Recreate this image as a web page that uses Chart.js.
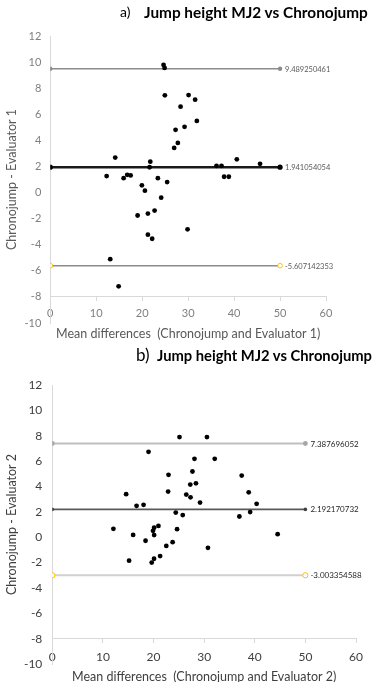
<!DOCTYPE html>
<html>
<head>
<meta charset="utf-8">
<script src="https://cdn.jsdelivr.net/npm/chart.js@4.4.1/dist/chart.umd.min.js"></script>
<style>
  html, body { margin: 0; padding: 0; background: #fff; }
  #wrap { position: relative; width: 375px; height: 682px; overflow: hidden; font-family: Lato, "Open Sans", sans-serif; }
  canvas { position: absolute; left: 0; }
  #cA { top: 0; }
  #cB { top: 340px; }
  .h { position: absolute; white-space: nowrap; color: #000; line-height: 1; font-family: Lato, sans-serif; }
  .n { font-weight: 400; }
  .b { font-weight: 700; font-size: 15px; }
</style>
</head>
<body>
<div id="wrap">
  <canvas id="cA" width="375" height="352"></canvas>
  <canvas id="cB" width="375" height="342"></canvas>
  <span class="h n" id="hAn" style="left:120px; top:5px; font-size:14px">a)</span>
  <span class="h b" id="hAb" style="left:144px; top:5px">Jump height MJ2 vs Chronojump</span>
  <span class="h n" id="hBn" style="left:136px; top:346px; font-size:17px">b)</span>
  <span class="h b" id="hBb" style="left:157px; top:348px">Jump height MJ2 vs Chronojump</span>
</div>
<script>
// ---- Data ----
const xTickLabelsRange = [0, 60];      // x axis 0..60 step 10
const yTickLabelsRange = [-10, 12];    // y axis -10..12 step 2

// Chart a) Chronojump vs Evaluator 1
const aMean = [24.65, 24.87, 24.93, 30.09, 31.52, 28.35, 31.89, 29.22, 27.26, 27.76, 26.96,
               14.13, 21.76, 21.61, 36.17, 37.26, 40.59, 45.65, 12.26, 16.74, 17.48, 15.96,
               23.41, 25.43, 37.83, 38.85, 19.93, 20.59, 24.13, 22.70, 21.24, 19.00, 29.87,
               21.24, 22.17, 13.04, 14.87];
const aDiff = [9.78, 9.55, 7.45, 7.47, 7.12, 6.58, 5.49, 5.04, 4.81, 3.80, 3.42,
               2.68, 2.37, 1.94, 2.05, 2.05, 2.55, 2.20, 1.26, 1.36, 1.31, 1.10,
               1.10, 0.80, 1.21, 1.21, 0.55, 0.14, -0.39, -1.38, -1.61, -1.76, -2.82,
               -3.23, -3.54, -5.11, -7.19];
const aLimits = [9.489250461, 1.941054054, -5.607142353]; // upper, mean, lower
const aTitleY = "Chronojump - Evaluator 1";
const aTitleX = "Mean differences  (Chronojump and Evaluator 1)";

// Chart b) Chronojump vs Evaluator 2
const bMean = [25.13, 30.55, 19.01, 28.09, 32.09, 27.69, 22.96, 37.42, 27.26, 28.38,
               14.59, 22.88, 26.47, 27.31, 38.80, 29.19, 40.37, 16.65, 18.03, 24.39,
               25.77, 36.96, 39.09, 12.07, 15.97, 20.12, 20.97, 19.90, 20.12, 24.65,
               44.52, 18.42, 23.77, 22.52, 30.75, 15.17, 20.10, 21.30, 19.64];
const bDiff = [7.89, 7.89, 6.73, 6.18, 6.18, 5.18, 4.92, 4.86, 4.15, 4.25,
               3.39, 3.60, 3.36, 3.14, 3.54, 2.73, 2.63, 2.47, 2.55, 1.94,
               1.74, 1.63, 1.98, 0.66, 0.18, 0.75, 0.89, 0.50, 0.17, 0.63,
               0.24, -0.28, -0.39, -0.69, -0.84, -1.85, -1.70, -1.49, -2.00];
const bLimits = [7.387696052, 2.192170732, -3.003354588];
const bTitleY = "Chronojump - Evaluator 2";
const bTitleX = "Mean differences  (Chronojump and Evaluator 2)";

const limitX = [0, 50]; // limit lines run from x=0 to x=50

// fit the bold headings to the width they take in the reference
function fitWidth(id, target) {
  const el = document.getElementById(id);
  const w = el.getBoundingClientRect().width;
  if (w > 0) el.style.fontSize = (15 * target / w).toFixed(2) + 'px';
}
fitWidth('hAb', 224);
fitWidth('hBb', 215);

// ---- Plugin: value labels at the right end of the limit lines ----
const limitLabels = {
  id: 'limitLabels',
  afterDatasetsDraw(chart) {
    const ctx = chart.ctx;
    chart.data.datasets.forEach((ds, i) => {
      if (!ds.limitText) return;
      const meta = chart.getDatasetMeta(i);
      const pt = meta.data[meta.data.length - 1];
      ctx.save();
      ctx.font = ds.limitFont;
      ctx.fillStyle = ds.limitColor;
      ctx.textBaseline = 'middle';
      ctx.textAlign = 'left';
      ctx.fillText(ds.limitText, pt.x + 5, pt.y + 0.5);
      ctx.restore();
    });
  }
};

function limitDataset(value, cfg) {
  return Object.assign({
    type: 'scatter',
    showLine: true,
    data: limitX.map(x => ({ x: x, y: value })),
    limitText: String(value),
    order: 2
  }, cfg);
}

function makeChart(id, mean, diff, limits, titleY, titleX, st) {
  const pts = mean.map((m, i) => ({ x: m, y: diff[i] }));
  return new Chart(document.getElementById(id), {
    type: 'scatter',
    data: {
      datasets: [
        { data: pts, pointRadius: st.dotR, pointHoverRadius: st.dotR, backgroundColor: '#000', borderWidth: 0, order: 1 },
        limitDataset(limits[0], st.upper),
        limitDataset(limits[1], st.mean),
        limitDataset(limits[2], st.lower)
      ]
    },
    options: {
      responsive: false,
      animation: false,
      events: [],
      layout: { padding: st.pad },
      plugins: { legend: { display: false }, tooltip: { enabled: false }, title: { display: false } },
      scales: {
        x: {
          type: 'linear',
          position: { y: -8 },
          min: xTickLabelsRange[0], max: xTickLabelsRange[1],
          ticks: { stepSize: 10, color: st.tickColor, font: { family: 'Lato', size: st.tickSize }, padding: st.xTickPad, maxRotation: 0 },
          grid: { display: true, drawOnChartArea: false, drawTicks: true, tickLength: 4, color: '#d9d9d9' },
          border: { display: true, color: '#d9d9d9', width: 1 },
          title: { display: true, text: titleX, color: st.titleColor, font: { family: 'Lato', size: st.titleSize }, padding: st.xTitlePad }
        },
        y: {
          type: 'linear',
          position: 'left',
          min: yTickLabelsRange[0], max: yTickLabelsRange[1],
          ticks: { stepSize: 2, color: st.tickColor, font: { family: 'Lato', size: st.tickSize }, padding: st.yTickPad },
          grid: { display: false, drawTicks: false },
          border: { display: true, color: '#d9d9d9', width: 1 },
          title: { display: true, text: titleY, color: st.titleColor, font: { family: 'Lato', size: st.titleSize }, padding: { top: 4, bottom: 0 } },
          afterFit(scale) { scale.width = st.yWidth; }
        }
      }
    },
    plugins: [limitLabels]
  });
}

makeChart('cA', aMean, aDiff, aLimits, aTitleY, aTitleX, {
  dotR: 2.4,
  pad: { top: 36, bottom: 29, left: 0, right: 49 },
  yWidth: 50.3,
  tickColor: '#7f7f7f', tickSize: 11, titleColor: '#595959', titleSize: 12.5,
  xTickPad: 6, yTickPad: 9, xTitlePad: { top: 0, bottom: 0 },
  upper: { borderColor: '#8c8c8c', borderWidth: 1.5, pointRadius: 2.2, pointBackgroundColor: '#8c8c8c', pointBorderWidth: 0,
           limitFont: '7.5px Lato', limitColor: '#595959' },
  mean:  { borderColor: '#1a1a1a', borderWidth: 2.6, pointRadius: 2.6, pointBackgroundColor: '#000', pointBorderWidth: 0,
           limitFont: '7.5px Lato', limitColor: '#595959' },
  lower: { borderColor: '#8c8c8c', borderWidth: 1.5, pointRadius: 2.3, pointBackgroundColor: '#fff', pointBorderColor: '#ffc000', pointBorderWidth: 1,
           limitFont: '7.5px Lato', limitColor: '#595959' }
});

makeChart('cB', bMean, bDiff, bLimits, bTitleY, bTitleX, {
  dotR: 2.4,
  pad: { top: 45, bottom: 18, left: 0, right: 19 },
  yWidth: 52.3,
  tickColor: '#404040', tickSize: 12, titleColor: '#404040', titleSize: 12.5,
  xTickPad: 7, yTickPad: 10, xTitlePad: { top: -2, bottom: 0 },
  upper: { borderColor: '#bfbfbf', borderWidth: 2, pointRadius: 2.4, pointBackgroundColor: '#a6a6a6', pointBorderWidth: 0,
           limitFont: '8px Lato', limitColor: '#262626' },
  mean:  { borderColor: '#595959', borderWidth: 1.6, pointRadius: 1.8, pointBackgroundColor: '#404040', pointBorderWidth: 0,
           limitFont: '8px Lato', limitColor: '#262626' },
  lower: { borderColor: '#d0d0d0', borderWidth: 2, pointRadius: 2.6, pointBackgroundColor: '#fff', pointBorderColor: '#ffc000', pointBorderWidth: 1,
           limitFont: '8px Lato', limitColor: '#262626' }
});
</script>
</body>
</html>
